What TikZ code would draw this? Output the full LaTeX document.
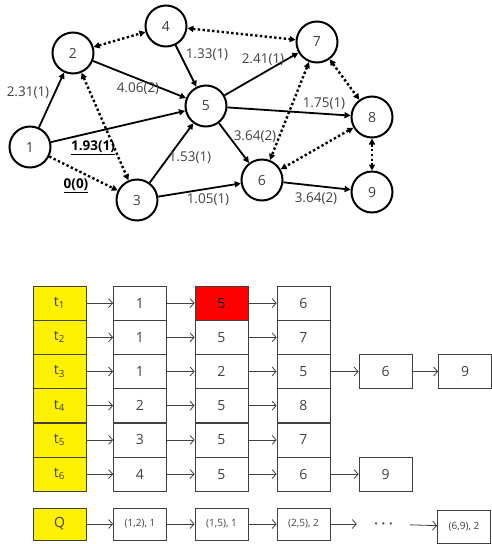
\documentclass[tikz,border=0pt]{standalone}
\usepackage{fontspec}
\setmainfont{Open Sans}
\usetikzlibrary{arrows.meta}
\definecolor{txt}{HTML}{404040}
\begin{document}
\begin{tikzpicture}[x=1pt,y=-1pt,
  vtx/.style={circle,draw=black,line width=2pt,minimum size=41pt,inner sep=0pt,text=txt,font=\fontsize{14}{16}\selectfont},
  sol/.style={line width=1.8pt,-{Triangle[length=6pt,width=6pt]}},
  dotline/.style={line width=2.4pt,dash pattern=on 2.4pt off 2.4pt},
  dotone/.style={dotline,-{Triangle[length=6pt,width=6pt]}},
  dotboth/.style={dotline,{Triangle[length=6pt,width=6pt]}-{Triangle[length=6pt,width=6pt]}},
  lab/.style={text=txt,inner sep=0pt,font=\fontsize{13.5}{16}\selectfont},
  cell/.style={draw=txt,line width=0.8pt,minimum width=53pt,minimum height=34pt,inner sep=0pt,text=txt,font=\fontsize{14}{16}\selectfont},
  ycell/.style={cell,fill=yellow},
  qcell/.style={cell,minimum height=32pt,font=\fontsize{10}{12}\selectfont},
  lk/.style={draw=txt,line width=0.8pt,-{Straight Barb[length=4pt,width=9pt]}}
]
\useasboundingbox (0,0) rectangle (491,544);
% graph nodes
\node[vtx] (n1) at (30,147) {1};
\node[vtx] (n2) at (73,53) {2};
\node[vtx] (n3) at (137,200) {3};
\node[vtx] (n4) at (166,26) {4};
\node[vtx] (n5) at (206,106) {5};
\node[vtx] (n6) at (262,180) {6};
\node[vtx] (n7) at (317,42) {7};
\node[vtx] (n8) at (372,117) {8};
\node[vtx] (n9) at (372,192) {9};
% solid edges
\draw[sol] (n1) -- (n2);
\draw[sol] (n1) -- (n5);
\draw[sol] (n2) -- (n5);
\draw[sol] (n4) -- (n5);
\draw[sol] (n3) -- (n5);
\draw[sol] (n3) -- (n6);
\draw[sol] (n5) -- (n6);
\draw[sol] (n5) -- (n7);
\draw[sol] (n5) -- (n8);
\draw[sol] (n6) -- (n9);
% dotted edges
\draw[dotone] (n1) -- (n3);
\draw[dotboth] (n2) -- (n4);
\draw[dotboth] (n4) -- (n7);
\draw[dotboth] (n2) -- (n3);
\draw[dotboth] (n7) -- (n6);
\draw[dotboth] (n7) -- (n8);
\draw[dotboth] (n8) -- (n6);
\draw[dotboth] (n8) -- (n9);
% labels
\node[lab] (l12) at (28,93) {2.31(1)};
\node[lab] (l25) at (138,89) {4.06(2)};
\node[lab] (l45) at (207,55) {1.33(1)};
\node[lab] (l57) at (263,60) {2.41(1)};
\node[lab] (l58) at (324,104) {1.75(1)};
\node[lab] (l56) at (255,137) {3.64(2)};
\node[lab] (l35) at (190,158) {1.53(1)};
\node[lab,text=black] (l15) at (93,148) {\underline{\textbf{1.93(1)}}};
\node[lab,text=black] (l13) at (76,186) {\underline{\textbf{0(0)}}};
\node[lab] (l36) at (208,200) {1.05(1)};
\node[lab] (l69) at (316,199) {3.64(2)};
% table
\foreach \r/\y/\a/\b/\c/\f/\k in {1/303.1/1/5/6/red/black, 2/337.3/1/5/7/white/txt, 3/371.5/1/2/5/white/txt, 4/405.7/2/5/8/white/txt, 5/439.9/3/5/7/white/txt, 6/474.1/4/5/6/white/txt}{
  \node[ycell] (t\r) at (59.5,\y) {t\textsubscript{\r}};
  \node[cell] (a\r) at (140,\y) {\a};
  \node[cell,fill=\f,text=\k] (b\r) at (221.5,\y) {\b};
  \node[cell] (c\r) at (303.5,\y) {\c};
  \draw[lk] (t\r) -- (a\r);
  \draw[lk] (a\r) -- (b\r);
  \draw[lk] (b\r) -- (c\r);
}
\node[cell] (d3) at (385.5,371.5) {6};
\node[cell] (e3) at (465,371.5) {9};
\node[cell] (d6) at (385.5,474.1) {9};
\draw[lk] (c3) -- (d3);
\draw[lk] (d3) -- (e3);
\draw[lk] (c6) -- (d6);
% queue
\node[ycell,minimum height=32pt] (q) at (59.5,524) {Q};
\node[qcell] (q1) at (140,524) {(1,2), 1};
\node[qcell] (q2) at (221.5,524) {(1,5), 1};
\node[qcell] (q3) at (303.5,524) {(2,5), 2};
\node[text=txt,inner sep=0pt,minimum width=53pt,font=\fontsize{14}{16}\selectfont\boldmath] (qd) at (383.5,524) {$\cdots$};
\node[qcell,minimum height=33pt] (q4) at (464,526.5) {(6,9), 2};
\draw[lk] (q) -- (q1);
\draw[lk] (q1) -- (q2);
\draw[lk] (q2) -- (q3);
\draw[lk] (q3) -- (qd);
\draw[lk] (qd) -- (q4);
\end{tikzpicture}
\end{document}
